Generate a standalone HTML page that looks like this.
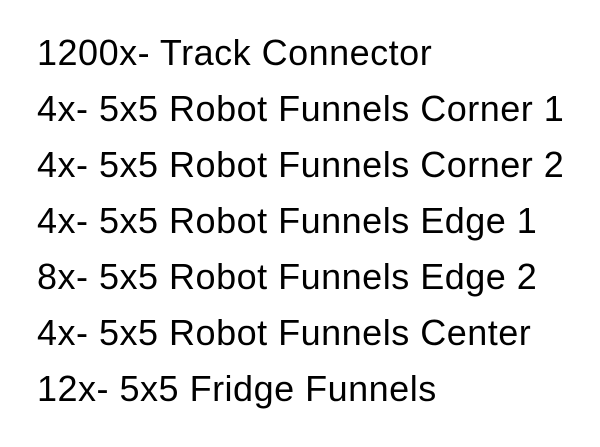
<!DOCTYPE html>
<html><head><style>
html,body{margin:0;padding:0;background:#fff;width:600px;height:447px;overflow:hidden}
.l{position:absolute;left:37px;font-family:"Liberation Sans",Arial,sans-serif;font-size:36px;line-height:36px;letter-spacing:0.5px;color:#000;white-space:nowrap}
</style></head><body>
<div class="l" style="top:35px">1200x- Track Connector</div>
<div class="l" style="top:91px">4x- 5x5 Robot Funnels Corner 1</div>
<div class="l" style="top:147px">4x- 5x5 Robot Funnels Corner 2</div>
<div class="l" style="top:203px">4x- 5x5 Robot Funnels Edge 1</div>
<div class="l" style="top:259px">8x- 5x5 Robot Funnels Edge 2</div>
<div class="l" style="top:315px">4x- 5x5 Robot Funnels Center</div>
<div class="l" style="top:371px">12x- 5x5 Fridge Funnels</div>
</body></html>
